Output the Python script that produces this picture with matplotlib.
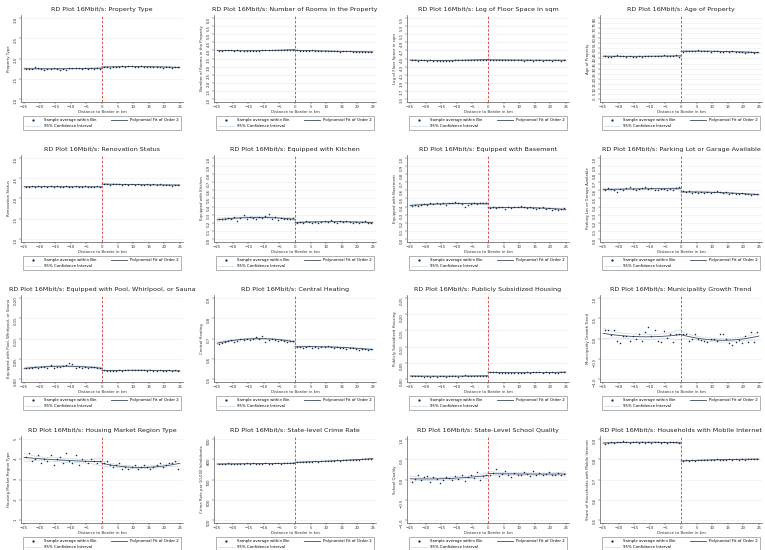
import numpy as np
import matplotlib
matplotlib.use("Agg")
import matplotlib.pyplot as plt

W, H = 765, 550

titles = [
    "RD Plot 16Mbit/s: Property Type",
    "RD Plot 16Mbit/s: Number of Rooms in the Property",
    "RD Plot 16Mbit/s: Log of Floor Space in sqm",
    "RD Plot 16Mbit/s: Age of Property",
    "RD Plot 16Mbit/s: Renovation Status",
    "RD Plot 16Mbit/s: Equipped with Kitchen",
    "RD Plot 16Mbit/s: Equipped with Basement",
    "RD Plot 16Mbit/s: Parking Lot or Garage Available",
    "RD Plot 16Mbit/s: Equipped with Pool, Whirlpool, or Sauna",
    "RD Plot 16Mbit/s: Central Heating",
    "RD Plot 16Mbit/s: Publicly Subsidized Housing",
    "RD Plot 16Mbit/s: Municipality Growth Trend",
    "RD Plot 16Mbit/s: Housing Market Region Type",
    "RD Plot 16Mbit/s: State-level Crime Rate",
    "RD Plot 16Mbit/s: State-Level School Quality",
    "RD Plot 16Mbit/s: Households with Mobile Internet",
]
ylabels = [
    "Property Type", "Number of Rooms in the Property", "Log of Floor Space in sqm",
    "Age of Property", "Renovation Status", "Equipped with Kitchen",
    "Equipped with Basement", "Parking Lot or Garage Available",
    "Equipped with Pool, Whirlpool, or Sauna", "Central Heating",
    "Publicly Subsidized Housing", "Municipality Growth Trend",
    "Housing Market Region Type", "Crime Rate per 10,000 Inhabitants",
    "School Quality", "Share of Households with Mobile Internet",
]

bins_left = [-24.5, -23.5, -22.5, -21.5, -20.5, -19.5, -18.5, -17.5, -16.5, -15.5, -14.5, -13.5,
             -12.5, -11.5, -10.5, -9.5, -8.5, -7.5, -6.5, -5.5, -4.5, -3.5, -2.5, -1.5, -0.5]
bins_right = [0.5, 1.5, 2.5, 3.5, 4.5, 5.5, 6.5, 7.5, 8.5, 9.5, 10.5, 11.5, 12.5,
              13.5, 14.5, 15.5, 16.5, 17.5, 18.5, 19.5, 20.5, 21.5, 22.5, 23.5, 24.5]

xticks = [-25, -20, -15, -10, -5, 0, 5, 10, 15, 20, 25]

yticks = [
    [1, 1.5, 2, 2.5, 3],
    [1, 1.5, 2, 2.5, 3, 3.5, 4, 4.5, 5, 5.5, 6],
    [3.5, 3.7, 3.9, 4.1, 4.3, 4.5, 4.7, 4.9, 5.1, 5.3, 5.5],
    [0, 5, 10, 15, 20, 25, 30, 35, 40, 45, 50, 55, 60, 65, 70, 75, 80],
    [1, 1.5, 2, 2.5, 3],
    [0, .1, .2, .3, .4, .5, .6, .7, .8, .9, 1],
    [0, .1, .2, .3, .4, .5, .6, .7, .8, .9, 1],
    [0, .1, .2, .3, .4, .5, .6, .7, .8, .9, 1],
    [0, .05, .1, .15, .2],
    [.5, .6, .7, .8, .9],
    [0, .05, .1, .15, .2, .25],
    [-1, -.5, 0, .5, 1],
    [1, 2, 3, 4, 5],
    [500, 600, 700, 800, 900],
    [-1, -.5, 0, .5, 1],
    [.5, .6, .7, .8, .9],
]

left_vals = [
    [1.75,1.73,1.74,1.78,1.76,1.75,1.72,1.74,1.73,1.76,1.75,1.71,1.74,1.72,1.76,1.77,1.76,1.77,1.75,1.76,1.74,1.76,1.75,1.77,1.74],
    [3.98,3.99,4.01,4.02,4.00,3.99,4.01,3.98,3.97,3.95,3.94,3.97,3.98,3.99,4.00,4.01,4.02,4.01,4.02,4.02,4.03,4.02,4.03,4.02,4.03],
    [4.46,4.46,4.45,4.46,4.46,4.45,4.46,4.45,4.44,4.44,4.45,4.44,4.45,4.45,4.46,4.46,4.47,4.46,4.47,4.47,4.46,4.47,4.46,4.47,4.46],
    [42.5,41.5,41.8,42.6,43.5,42.0,42.3,41.9,42.1,41.8,41.5,42.0,41.3,42.2,42.5,42.0,42.8,42.3,42.6,43.0,42.2,42.8,42.4,43.1,41.6],
    [2.29,2.28,2.30,2.29,2.31,2.29,2.30,2.28,2.30,2.29,2.31,2.28,2.29,2.30,2.28,2.29,2.30,2.29,2.28,2.30,2.29,2.28,2.29,2.30,2.29],
    [0.24,0.25,0.24,0.26,0.24,0.27,0.22,0.26,0.29,0.25,0.27,0.26,0.25,0.27,0.26,0.28,0.31,0.24,0.27,0.23,0.26,0.24,0.25,0.24,0.26],
    [0.41,0.42,0.41,0.42,0.43,0.42,0.44,0.43,0.45,0.43,0.44,0.42,0.45,0.44,0.46,0.45,0.43,0.40,0.42,0.43,0.44,0.43,0.44,0.44,0.45],
    [0.60,0.63,0.62,0.61,0.58,0.62,0.61,0.63,0.64,0.62,0.61,0.62,0.63,0.64,0.62,0.63,0.60,0.61,0.62,0.62,0.61,0.62,0.61,0.63,0.64],
    [0.027,0.028,0.027,0.029,0.028,0.029,0.030,0.028,0.034,0.026,0.029,0.030,0.031,0.033,0.038,0.036,0.027,0.029,0.028,0.029,0.028,0.030,0.029,0.027,0.026],
    [0.675,0.68,0.685,0.69,0.695,0.685,0.69,0.70,0.695,0.70,0.695,0.70,0.705,0.70,0.71,0.685,0.695,0.70,0.695,0.69,0.695,0.69,0.685,0.69,0.69],
    [0.010,0.009,0.008,0.008,0.007,0.008,0.007,0.008,0.007,0.008,0.008,0.007,0.008,0.009,0.008,0.007,0.009,0.011,0.009,0.010,0.008,0.009,0.008,0.009,0.008],
    [0.20,0.20,0.08,0.20,-0.05,-0.12,0.05,0.05,-0.05,0.05,0.00,0.10,-0.05,0.15,0.28,0.05,0.22,-0.06,-0.08,0.18,0.02,0.12,-0.08,0.10,0.10],
    [4.1,4.3,3.9,4.0,4.2,3.8,4.0,3.9,4.2,3.7,4.0,4.1,3.8,4.3,3.9,3.8,4.2,3.7,4.0,3.9,3.8,4.0,3.9,3.8,3.9],
    [775,778,776,780,778,779,777,776,778,780,779,781,778,779,777,780,778,779,780,781,779,780,782,781,780],
    [-0.05,0.02,0.10,-0.02,0.05,0.08,-0.06,0.06,0.02,-0.08,0.00,0.06,0.04,-0.02,0.08,0.02,0.10,-0.04,0.05,0.12,0.03,0.18,0.00,0.08,0.10],
    [0.875,0.880,0.885,0.882,0.888,0.886,0.890,0.885,0.880,0.884,0.887,0.883,0.886,0.882,0.885,0.880,0.884,0.886,0.882,0.885,0.880,0.884,0.887,0.885,0.882],
]
right_vals = [
    [1.78,1.80,1.77,1.79,1.80,1.79,1.81,1.80,1.82,1.81,1.79,1.80,1.81,1.79,1.80,1.78,1.79,1.80,1.78,1.77,1.80,1.78,1.76,1.79,1.80],
    [4.04,3.98,3.97,3.98,3.99,4.00,3.99,3.98,3.97,3.96,3.95,3.96,3.94,3.95,3.93,3.96,3.95,3.94,3.92,3.91,3.93,3.92,3.90,3.92,3.91],
    [4.47,4.46,4.46,4.47,4.46,4.46,4.47,4.46,4.46,4.47,4.46,4.45,4.46,4.46,4.45,4.46,4.46,4.45,4.46,4.46,4.45,4.46,4.46,4.45,4.46],
    [46.5,47.2,47.0,47.8,47.3,48.2,47.0,47.5,47.9,46.8,47.0,47.2,46.9,46.5,47.3,46.8,47.0,46.2,46.8,46.5,45.9,46.3,46.0,45.6,46.9],
    [2.36,2.37,2.34,2.35,2.36,2.35,2.34,2.35,2.34,2.35,2.34,2.35,2.34,2.33,2.35,2.34,2.36,2.34,2.35,2.33,2.34,2.33,2.32,2.33,2.34],
    [0.20,0.21,0.20,0.22,0.21,0.19,0.21,0.20,0.21,0.22,0.21,0.23,0.21,0.20,0.22,0.21,0.22,0.21,0.20,0.21,0.19,0.21,0.22,0.20,0.20],
    [0.38,0.39,0.38,0.39,0.40,0.37,0.39,0.38,0.40,0.39,0.41,0.39,0.38,0.39,0.38,0.37,0.38,0.40,0.37,0.38,0.36,0.37,0.36,0.37,0.38],
    [0.59,0.58,0.59,0.57,0.58,0.57,0.58,0.57,0.58,0.57,0.58,0.59,0.58,0.57,0.58,0.56,0.57,0.56,0.56,0.57,0.55,0.56,0.54,0.56,0.55],
    [0.022,0.020,0.019,0.020,0.020,0.021,0.020,0.021,0.022,0.021,0.023,0.021,0.022,0.021,0.020,0.021,0.020,0.020,0.021,0.020,0.020,0.021,0.020,0.021,0.019],
    [0.66,0.66,0.655,0.66,0.665,0.655,0.66,0.655,0.66,0.66,0.665,0.66,0.655,0.66,0.655,0.655,0.65,0.655,0.655,0.65,0.645,0.65,0.65,0.645,0.65],
    [0.021,0.020,0.022,0.018,0.019,0.017,0.018,0.019,0.018,0.019,0.018,0.019,0.020,0.019,0.021,0.020,0.021,0.019,0.020,0.019,0.020,0.019,0.018,0.021,0.020],
    [0.12,0.10,-0.05,0.00,0.10,-0.02,-0.03,-0.05,-0.08,-0.02,-0.02,-0.05,0.10,0.10,0.00,-0.10,-0.15,-0.08,-0.03,-0.10,0.05,-0.08,0.15,-0.08,0.15],
    [3.8,3.9,3.7,3.6,3.7,3.8,3.5,3.6,3.5,3.6,3.7,3.5,3.6,3.7,3.6,3.5,3.6,3.7,3.8,3.6,3.7,3.8,3.8,3.9,3.5],
    [786,785,787,788,786,789,790,788,791,790,792,791,793,795,794,796,795,797,798,797,799,800,801,802,804],
    [0.10,0.15,0.26,0.08,0.14,0.20,0.12,0.06,0.16,0.10,0.12,0.18,0.14,0.08,0.22,0.12,0.16,0.10,0.14,0.18,0.12,0.10,0.16,0.12,0.14],
    [0.790,0.795,0.792,0.796,0.794,0.798,0.795,0.797,0.796,0.799,0.797,0.800,0.798,0.796,0.799,0.801,0.797,0.800,0.798,0.801,0.799,0.802,0.800,0.803,0.801],
]

col_left = [21, 214, 407, 600]
ax_w = 162
row_top = [15, 155, 295, 436]
ax_h = 87

fig = plt.figure(figsize=(W / 100, H / 100), dpi=100)
fig.patch.set_facecolor("white")

fit_col = "#3c4a5c"
ci_col = "#9ab8d6"
dot_col = "#1a2a4a"


def fit_side(x, y):
    x = np.asarray(x, float)
    y = np.asarray(y, float)
    coef, cov = np.polyfit(x, y, 2, cov=True)
    xs = np.linspace(x.min() - 0.5, x.max() + 0.5, 60)
    X = np.vstack([xs ** 2, xs, np.ones_like(xs)]).T
    yhat = X @ coef
    se = np.sqrt(np.einsum("ij,jk,ik->i", X, cov, X))
    return xs, yhat, yhat - 1.96 * se, yhat + 1.96 * se


for i in range(16):
    r, c = divmod(i, 4)
    x0 = col_left[c] / W
    y0 = 1 - (row_top[r] + ax_h) / H
    ax = fig.add_axes([x0, y0, ax_w / W, ax_h / H])
    ax.set_facecolor("white")
    yt = yticks[i]
    pad = (yt[-1] - yt[0]) * 0.04
    ax.set_ylim(yt[0] - pad, yt[-1] + pad)
    ax.set_xlim(-26, 26)
    ax.set_yticks(yt)
    ax.set_xticks(xticks)
    ax.grid(axis="y", color="#e8ecef", lw=0.4)
    ax.set_axisbelow(True)
    for s in ["top", "right"]:
        ax.spines[s].set_visible(False)
    for s in ["left", "bottom"]:
        ax.spines[s].set_linewidth(0.4)
        ax.spines[s].set_color("#333333")
    ax.tick_params(labelsize=2.8, length=1.5, width=0.3, pad=1, colors="#333333")
    ax.tick_params(axis="y", labelrotation=90)

    ax.plot([0, 0], [yt[0] - pad, yt[-1] + pad], color="#d03a3a", lw=0.6,
            ls=(0, (3, 2)), zorder=1)

    h_ci = None
    for xb, yb in ((bins_left, left_vals[i]), (bins_right, right_vals[i])):
        xs, yh, lo, hi = fit_side(xb, yb)
        h_ci, = ax.plot(xs, lo, color=ci_col, lw=0.4, ls=(0, (2, 1)))
        ax.plot(xs, hi, color=ci_col, lw=0.4, ls=(0, (2, 1)))
        h_fit, = ax.plot(xs, yh, color=fit_col, lw=0.6)
        h_dot = ax.scatter(xb, yb, s=1.2, color=dot_col, marker="o", lw=0, zorder=3)

    ax.set_title(titles[i], fontsize=4.6, pad=3, color="#222222")
    ax.set_ylabel(ylabels[i], fontsize=2.8, labelpad=1.5, color="#333333")
    ax.set_xlabel("Distance to Border in km", fontsize=2.8, labelpad=0.5, color="#333333")

    leg = ax.legend([h_dot, h_ci, h_fit],
                    ["Sample average within Bin", "95% Confidence Interval", "Polynomial Fit of Order 2"],
                    loc="upper left", bbox_to_anchor=(0, -0.14, 1, 0), mode="expand",
                    ncol=2, fontsize=2.8, frameon=True, fancybox=False,
                    handlelength=4, borderpad=0.6, labelspacing=0.4, markerscale=1.5)
    leg.get_frame().set_linewidth(0.4)
    leg.get_frame().set_edgecolor("#555555")

fig.savefig("out.png", dpi=100, facecolor="white")
